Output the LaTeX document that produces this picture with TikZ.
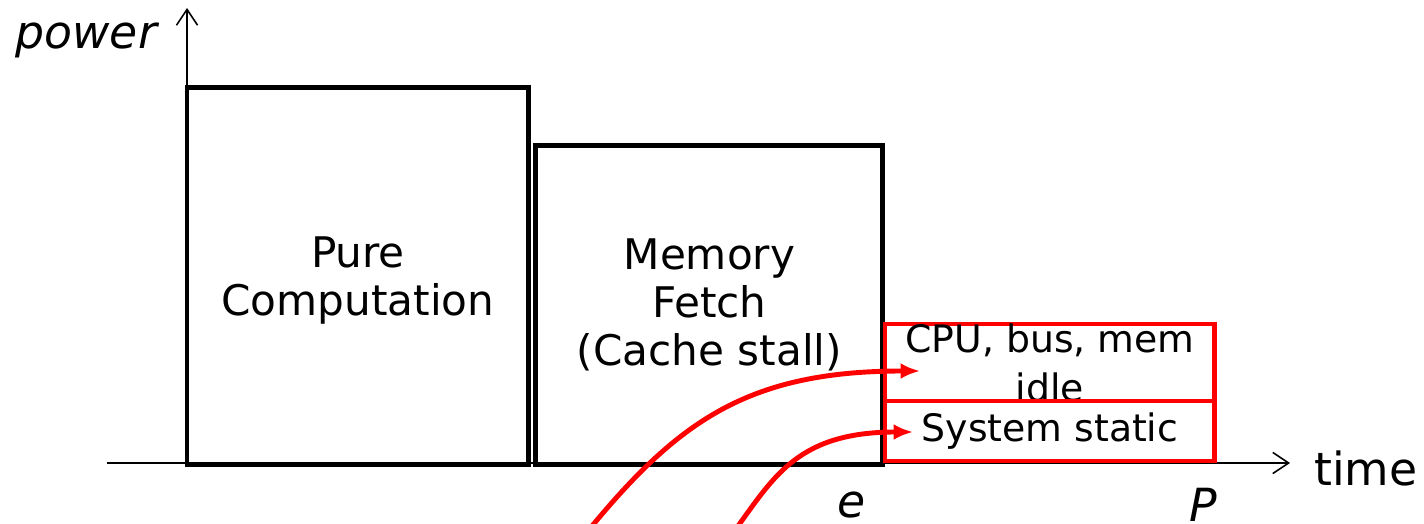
\documentclass[tikz,border=0pt]{standalone}
\usepackage{fontspec}
\setmainfont{DejaVu Sans}
\usetikzlibrary{positioning,calc,arrows.meta}

\tikzset{
  phase/.style={draw, line width=2.8pt, inner sep=0pt, outer sep=0pt, align=center,
    font=\fontsize{24}{27.5}\selectfont},
  idlebox/.style={phase, draw=red, minimum width=6.6cm, font=\fontsize{21.5}{27.5}\selectfont},
  axis/.style={line width=0.9pt, -{Straight Barb[length=9pt,width=12pt]}},
  flow/.style={red, line width=2.8pt, -{Latex[length=11pt,width=9pt]}},
  axlabel/.style={font=\fontsize{26}{30}\selectfont}
}

\begin{document}
\begin{tikzpicture}[x=0.02cm, y=-0.02cm]
\useasboundingbox (0,0) rectangle (1424,524);

% axes
\coordinate (O) at (187,463);
\draw[axis] (107,463) -- (1290,463) coordinate (xtip);
\draw[axis] (O) -- (187,8) coordinate (ytip);

% busy phases
\node[phase, minimum width=6.84cm, minimum height=7.56cm, text depth=-1pt, anchor=south west] (comp) at (187,465) {Pure\\Computation};
\node[phase, minimum width=6.94cm, minimum height=6.4cm, right=0.14cm of comp.south east, anchor=south west] (fetch) {Memory\\Fetch\\(Cache stall)};

% idle part up to the period
\node[idlebox, minimum height=1.54cm, text depth=-4pt, anchor=south west] (idle) at (885,401) {CPU, bus, mem\\idle};
\node[idlebox, fill=white, minimum height=1.2cm, below=0pt of idle] (static) {System static};

% labels
\node[axlabel, font=\fontsize{26}{30}\selectfont\itshape, anchor=east] (ylab) at (163,40) {power};
\node[axlabel, anchor=west] (xlab) at (1308,468) {time};
\node[axlabel, font=\fontsize{26}{30}\selectfont\itshape] (elab) at (852,505) {e};
\node[axlabel, font=\fontsize{26}{30}\selectfont\itshape] (plab) at (1203,505) {P};

% red arrows
\coordinate (src1) at (592,526);
\coordinate (src2) at (738,526);
\draw[flow] (src1) .. controls (680,420) and (750,371) .. ($(idle.west)+(35,8.5)$);
\draw[flow] (src2) .. controls (775,475) and (800,432) .. ($(static.west)+(28,1)$);
\end{tikzpicture}
\end{document}
